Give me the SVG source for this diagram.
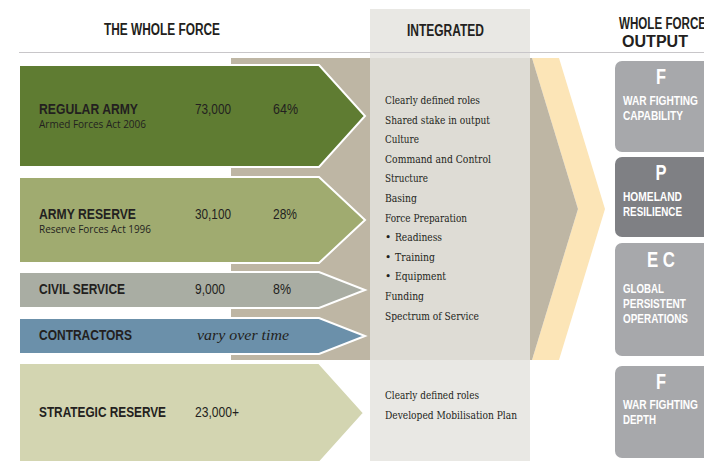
<svg xmlns="http://www.w3.org/2000/svg" width="704" height="461" viewBox="0 0 704 461">
<style>
.hd{font-family:"Liberation Sans",Arial,sans-serif;font-weight:bold;font-size:16px;fill:#231f20}
.lb{font-family:"Liberation Sans",Arial,sans-serif;font-weight:bold;font-size:15px;fill:#231f20}
.nm{font-family:"Liberation Sans",Arial,sans-serif;font-size:15px;fill:#231f20}
.sb{font-family:"Open Sans","Liberation Sans",sans-serif;font-size:10.5px;fill:#231f20}
.it{font-family:"Liberation Serif",serif;font-style:italic;font-size:15px;fill:#231f20}
.ls{font-family:"DejaVu Serif","Liberation Serif",serif;font-size:10.5px;fill:#231f20}
.bx{font-family:"Liberation Sans",Arial,sans-serif;font-weight:bold;fill:#ffffff}
.big{font-size:22px}
.sm{font-size:12.5px}
.arr{stroke:#ffffff;stroke-width:2}
</style>
<rect width="704" height="461" fill="#ffffff"/>
<g id="backdrop">
<rect x="370" y="9" width="160" height="452" fill="#e9e8e4"/>
<polygon points="532,58 559,58 605,209 559,360 532,360 578,209" fill="#fce5b7"/>
<polygon points="231,58 532,58 578,209 532,360 231,360" fill="#beb6a4"/>
<rect x="370" y="58" width="160" height="302" fill="#dedcd5"/>
<line x1="19" y1="52.5" x2="704" y2="52.5" stroke="#c8c6c9" stroke-width="1"/>
</g>
<g id="headers">
<text class="hd" x="104" y="35" textLength="116" lengthAdjust="spacingAndGlyphs">THE WHOLE FORCE</text>
<text class="hd" x="407" y="36" textLength="77" lengthAdjust="spacingAndGlyphs">INTEGRATED</text>
<text class="hd" x="619" y="29" textLength="87" lengthAdjust="spacingAndGlyphs">WHOLE FORCE</text>
<text class="hd" x="622" y="47" textLength="66" lengthAdjust="spacingAndGlyphs">OUTPUT</text>
</g>
<g id="connectors">
<polygon id="regular-army" class="arr" points="19,65 319,65 365,116 319,167 19,167" fill="#5f7c32"/>
<polygon id="army-reserve" class="arr" points="19,177 319,177 365,220 319,263 19,263" fill="#a0ab70"/>
<polygon id="civil-service" class="arr" points="19,272 319,272 365,290 319,308 19,308" fill="#a9ada3"/>
<polygon id="contractors" class="arr" points="19,318 319,318 365,336 319,354 19,354" fill="#6b90aa"/>
<polygon id="strategic-reserve" class="arr" points="19,363 319,363 364,413 319,463 19,463" fill="#d3d5b1"/>
</g>
<g id="node-regular-army">
<text class="lb" x="39" y="114" textLength="99" lengthAdjust="spacingAndGlyphs">REGULAR ARMY</text>
<text class="sb" x="39" y="128" textLength="107" lengthAdjust="spacingAndGlyphs">Armed Forces Act 2006</text>
<text class="nm" x="195" y="114" textLength="36" lengthAdjust="spacingAndGlyphs">73,000</text>
<text class="nm" x="273" y="114" textLength="25" lengthAdjust="spacingAndGlyphs">64%</text>
</g>
<g id="node-army-reserve">
<text class="lb" x="39" y="219" textLength="97" lengthAdjust="spacingAndGlyphs">ARMY RESERVE</text>
<text class="sb" x="39" y="233" textLength="112" lengthAdjust="spacingAndGlyphs">Reserve Forces Act 1996</text>
<text class="nm" x="195" y="219" textLength="36" lengthAdjust="spacingAndGlyphs">30,100</text>
<text class="nm" x="273" y="219" textLength="24" lengthAdjust="spacingAndGlyphs">28%</text>
</g>
<g id="node-civil-service">
<text class="lb" x="39" y="294" textLength="86" lengthAdjust="spacingAndGlyphs">CIVIL SERVICE</text>
<text class="nm" x="195" y="294" textLength="30" lengthAdjust="spacingAndGlyphs">9,000</text>
<text class="nm" x="273" y="294" textLength="18" lengthAdjust="spacingAndGlyphs">8%</text>
</g>
<g id="node-contractors">
<text class="lb" x="39" y="340" textLength="93" lengthAdjust="spacingAndGlyphs">CONTRACTORS</text>
<text class="it" x="197" y="340" textLength="92" lengthAdjust="spacingAndGlyphs">vary over time</text>
</g>
<g id="node-strategic-reserve">
<text class="lb" x="39" y="417" textLength="127" lengthAdjust="spacingAndGlyphs">STRATEGIC RESERVE</text>
<text class="nm" x="195" y="417" textLength="44" lengthAdjust="spacingAndGlyphs">23,000+</text>
</g>
<g id="node-integrated">
<text class="ls" x="385" y="104" textLength="95" lengthAdjust="spacingAndGlyphs">Clearly defined roles</text>
<text class="ls" x="385" y="124" textLength="105" lengthAdjust="spacingAndGlyphs">Shared stake in output</text>
<text class="ls" x="385" y="143" textLength="34" lengthAdjust="spacingAndGlyphs">Culture</text>
<text class="ls" x="385" y="163" textLength="106" lengthAdjust="spacingAndGlyphs">Command and Control</text>
<text class="ls" x="385" y="182" textLength="43" lengthAdjust="spacingAndGlyphs">Structure</text>
<text class="ls" x="385" y="202" textLength="32" lengthAdjust="spacingAndGlyphs">Basing</text>
<text class="ls" x="385" y="222" textLength="82" lengthAdjust="spacingAndGlyphs">Force Preparation</text>
<text class="ls" x="385" y="241">•</text>
<text class="ls" x="395" y="241" textLength="47" lengthAdjust="spacingAndGlyphs">Readiness</text>
<text class="ls" x="385" y="261">•</text>
<text class="ls" x="395" y="261" textLength="40" lengthAdjust="spacingAndGlyphs">Training</text>
<text class="ls" x="385" y="280">•</text>
<text class="ls" x="395" y="280" textLength="51" lengthAdjust="spacingAndGlyphs">Equipment</text>
<text class="ls" x="385" y="300" textLength="39" lengthAdjust="spacingAndGlyphs">Funding</text>
<text class="ls" x="385" y="320" textLength="94" lengthAdjust="spacingAndGlyphs">Spectrum of Service</text>
</g>
<g id="node-integrated-reserve">
<text class="ls" x="385" y="399" textLength="94" lengthAdjust="spacingAndGlyphs">Clearly defined roles</text>
<text class="ls" x="385" y="419" textLength="132" lengthAdjust="spacingAndGlyphs">Developed Mobilisation Plan</text>
</g>
<g id="node-war-fighting-capability">
<rect x="615" y="61" width="100" height="91" rx="7" fill="#a7a8ab"/>
<text class="bx big" x="661" y="84" text-anchor="middle" textLength="10" lengthAdjust="spacingAndGlyphs">F</text>
<text class="bx sm" x="623" y="105" textLength="75" lengthAdjust="spacingAndGlyphs">WAR FIGHTING</text>
<text class="bx sm" x="623" y="120" textLength="60" lengthAdjust="spacingAndGlyphs">CAPABILITY</text>
</g>
<g id="node-homeland-resilience">
<rect x="615" y="157" width="100" height="80" rx="7" fill="#7f8084"/>
<text class="bx big" x="661" y="180" text-anchor="middle" textLength="11" lengthAdjust="spacingAndGlyphs">P</text>
<text class="bx sm" x="623" y="201" textLength="59" lengthAdjust="spacingAndGlyphs">HOMELAND</text>
<text class="bx sm" x="623" y="216" textLength="59" lengthAdjust="spacingAndGlyphs">RESILIENCE</text>
</g>
<g id="node-global-persistent-operations">
<rect x="615" y="243" width="100" height="113" rx="7" fill="#a7a8ab"/>
<text class="bx big" x="661" y="267" text-anchor="middle" textLength="28" lengthAdjust="spacingAndGlyphs">E C</text>
<text class="bx sm" x="623" y="293" textLength="41" lengthAdjust="spacingAndGlyphs">GLOBAL</text>
<text class="bx sm" x="623" y="308" textLength="63" lengthAdjust="spacingAndGlyphs">PERSISTENT</text>
<text class="bx sm" x="623" y="323" textLength="65" lengthAdjust="spacingAndGlyphs">OPERATIONS</text>
</g>
<g id="node-war-fighting-depth">
<rect x="615" y="366" width="100" height="92" rx="7" fill="#a7a8ab"/>
<text class="bx big" x="661" y="389" text-anchor="middle" textLength="10" lengthAdjust="spacingAndGlyphs">F</text>
<text class="bx sm" x="623" y="409" textLength="75" lengthAdjust="spacingAndGlyphs">WAR FIGHTING</text>
<text class="bx sm" x="623" y="424" textLength="33" lengthAdjust="spacingAndGlyphs">DEPTH</text>
</g>
</svg>
